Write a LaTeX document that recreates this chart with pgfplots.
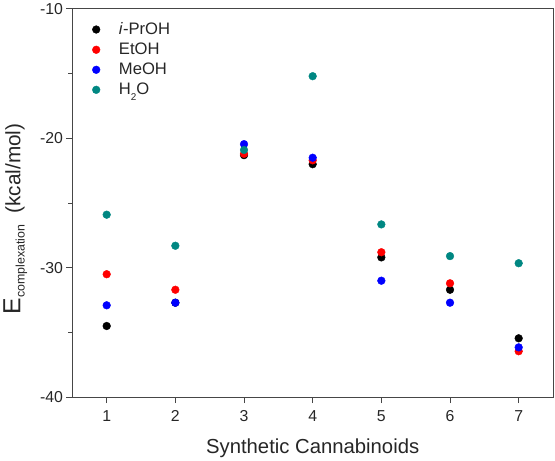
\documentclass[border=0pt]{standalone}
\usepackage{pgfplots}
\pgfplotsset{compat=1.18}
\usepackage{fontspec}
\setmainfont{Liberation Sans}
\definecolor{tealc}{RGB}{0,135,130}
\definecolor{axc}{RGB}{70,70,70}
\begin{document}
\begin{tikzpicture}
\begin{axis}[
 scale only axis, width=484bp, height=391bp,
 xmin=0.5, xmax=7.5, ymin=-40, ymax=-10,
 xtick={1,...,7}, ytick={-40,-30,-20,-10},
 minor y tick num=1,
 tick pos=left, tick align=outside,
 major tick length=6bp, minor tick length=4bp,
 axis line style={axc, line width=1pt},
 every tick/.style={axc, line width=1pt},
 /pgf/number format/assume math mode=true,
 tick label style={font=\fontsize{16}{18}\selectfont, color=black!85},
 xticklabel style={yshift=-4bp},
 xlabel={Synthetic Cannabinoids},
 xlabel style={font=\fontsize{20.5}{22}\selectfont, color=black!85, yshift=-10bp},
 ylabel={{\fontsize{25}{26}\selectfont E}\raisebox{-0.4ex}{\fontsize{12.5}{13}\selectfont complexation}\hspace{0.55em}(kcal/mol)},
 ylabel style={font=\fontsize{21}{22}\selectfont, color=black!85, xshift=-16bp, yshift=6bp},
 only marks,
 mark size=3.9bp,
 legend style={draw=none, fill=none, at={(rel axis cs:0.035,0.975)}, anchor=north west,
   font=\fontsize{16.8}{19}\selectfont, row sep=3bp, text=black!85,
   /tikz/every odd column/.append style={column sep=17bp}},
 legend cell align=left,
]
\addplot[mark=*, black, mark options={fill=black}] coordinates {
(1,-34.5) (2,-32.7) (3,-21.3) (4,-22.0) (5,-29.2) (6,-31.7) (7,-35.45)};
\addlegendentry{\textit{i}-PrOH}
\addplot[mark=*, red, mark options={fill=red}] coordinates {
(1,-30.5) (2,-31.7) (3,-21.2) (4,-21.7) (5,-28.8) (6,-31.2) (7,-36.45)};
\addlegendentry{EtOH}
\addplot[mark=*, blue, mark options={fill=blue}] coordinates {
(1,-32.9) (2,-32.7) (3,-20.45) (4,-21.5) (5,-31.0) (6,-32.7) (7,-36.15)};
\addlegendentry{MeOH}
\addplot[mark=*, tealc, mark options={fill=tealc}] coordinates {
(1,-25.9) (2,-28.3) (3,-20.9) (4,-15.2) (5,-26.65) (6,-29.1) (7,-29.65)};
\addlegendentry{H\raisebox{-0.6ex}{\fontsize{10}{11}\selectfont 2}O}
\end{axis}
\path (current axis.south west) ++(-69bp,-59bp) coordinate (bl);
\path (current axis.north east) ++(2bp,8bp) coordinate (tr);
\useasboundingbox (bl) rectangle (tr);
\end{tikzpicture}
\end{document}
